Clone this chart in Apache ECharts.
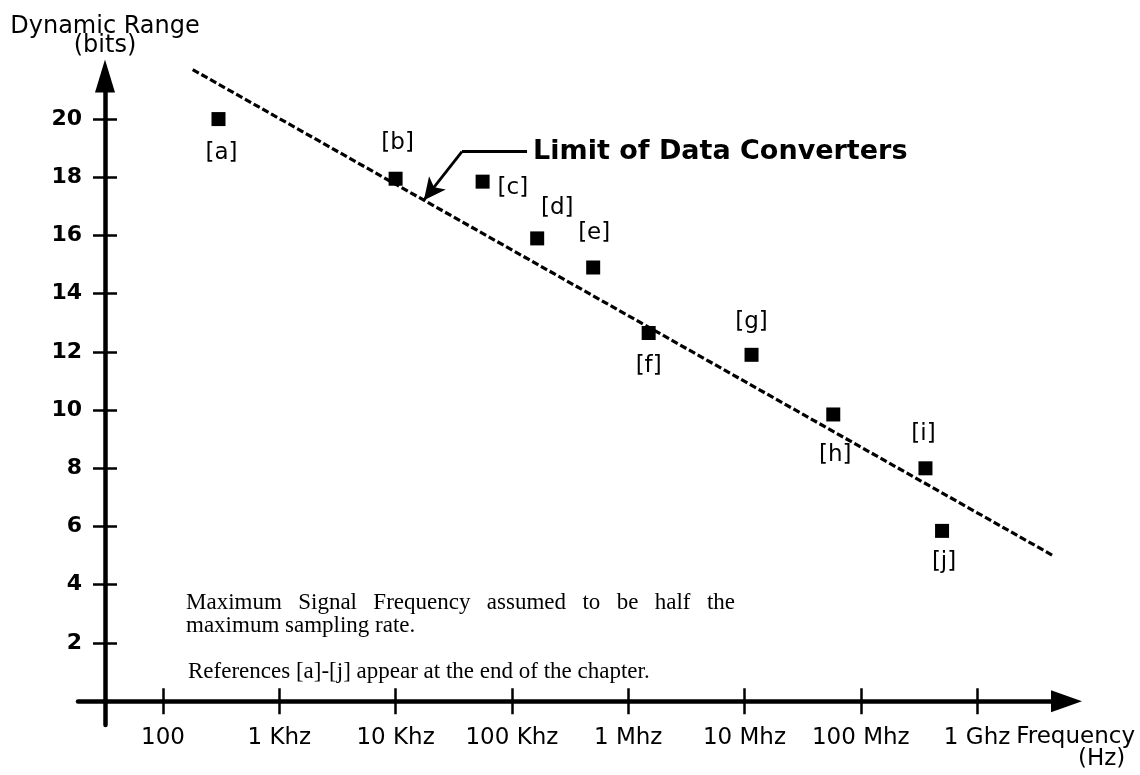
<!DOCTYPE html>
<html>
<head>
<meta charset="utf-8">
<script src="https://cdn.jsdelivr.net/npm/echarts@6/dist/echarts.min.js"></script>
<style>
  html, body { margin: 0; padding: 0; background: #fff; }
  #chart { width: 1140px; height: 775px; }
</style>
</head>
<body>
<div id="chart"></div>
<script>
// Published converters: sampling frequency (Hz) against dynamic range (bits)
const refLabels = ['[a]', '[b]', '[c]', '[d]', '[e]', '[f]', '[g]', '[h]', '[i]', '[j]'];
const refFreqHz = [300, 1.0e4, 5.6e4, 1.65e5, 5.0e5, 1.5e6, 1.15e7, 5.8e7, 3.6e8, 5.0e8];
const refBits   = [20, 17.95, 17.85, 15.9, 14.9, 12.65, 11.9, 9.85, 8.0, 5.85];

// "Limit of Data Converters" trend line (two end points)
const limitFreqHz = [180, 4.5e9];
const limitBits   = [21.7, 5.0];

// Callout: elbow and start of the caption; the arrow ends on the trend line
const calloutFreqHz = [3.72e4, 1.35e5];
const calloutBits   = [18.88, 18.88];
const calloutTipHz  = 1.75e4;

// Axis ticks
const freqTicksHz    = [1e2, 1e3, 1e4, 1e5, 1e6, 1e7, 1e8, 1e9];
const freqTickLabels = ['100', '1 Khz', '10 Khz', '100 Khz', '1 Mhz', '10 Mhz', '100 Mhz', '1 Ghz'];
const bitTicks       = [2, 4, 6, 8, 10, 12, 14, 16, 18, 20];

// Notes printed inside the plot
const noteLines = [
  'Maximum Signal Frequency assumed to be half the',
  'maximum sampling rate.',
  'References [a]-[j] appear at the end of the chapter.'
];

// Where each reference tag sits around its marker
const tagPlacement = {
  '[a]': { position: 'bottom', distance: 15, offset: [3, 0] },
  '[b]': { position: 'top',    distance: 17, offset: [2, 0] },
  '[c]': { position: 'right',  distance: 8,  offset: [0, 6] },
  '[d]': { position: 'top',    distance: 12, offset: [20, 0] },
  '[e]': { position: 'top',    distance: 16, offset: [1, 0] },
  '[f]': { position: 'bottom', distance: 15, offset: [0, 0] },
  '[g]': { position: 'top',    distance: 14, offset: [0, 0] },
  '[h]': { position: 'bottom', distance: 22, offset: [2, 0] },
  '[i]': { position: 'top',    distance: 16, offset: [-2, 0] },
  '[j]': { position: 'bottom', distance: 13, offset: [2, 0] }
};

const lg = Math.log10;
const INK = '#000';
const SANS = '"DejaVu Sans", sans-serif';
const SERIF = '"Liberation Serif", "Times New Roman", serif';
const NOTE_FONT = '23px ' + SERIF;

const freqTickDecades = freqTicksHz.map(lg);

// bits on the trend line at a given frequency (straight in log-frequency)
function limitAt(fHz) {
  const x0 = lg(limitFreqHz[0]), x1 = lg(limitFreqHz[1]);
  const t = (lg(fHz) - x0) / (x1 - x0);
  return limitBits[0] + t * (limitBits[1] - limitBits[0]);
}

// first note line is set justified across a fixed measure
function justified(text, measure) {
  const ctx = document.createElement('canvas').getContext('2d');
  ctx.font = NOTE_FONT;
  const words = text.split(' ');
  const used = words.reduce((s, w) => s + ctx.measureText(w).width, 0);
  const gap = (measure - used) / (words.length - 1);
  return {
    text: words.map(w => '{w|' + w + '}').join('{g| }'),
    rich: {
      w: { font: NOTE_FONT, fill: INK },
      g: { font: NOTE_FONT, fill: INK, width: gap }
    }
  };
}
const firstLine = justified(noteLines[0], 549);

const pointData = refLabels.map((tag, i) => {
  const p = tagPlacement[tag];
  return {
    name: tag,
    value: [lg(refFreqHz[i]), refBits[i]],
    label: {
      show: true, formatter: tag, position: p.position, distance: p.distance, offset: p.offset,
      color: INK, fontFamily: SANS, fontSize: 23
    }
  };
});

const limitData = limitFreqHz.map((f, i) => [lg(f), limitBits[i]]);

const chart = echarts.init(document.getElementById('chart'), null, { renderer: 'canvas' });

const tickStyle = { color: INK, width: 2.5 };

chart.setOption({
  animation: false,
  backgroundColor: '#fff',
  grid: { left: 78, right: 73.5, top: 76, bottom: 50 },
  xAxis: [
    {
      type: 'value',
      min: 1.269,
      max: 9.769,
      axisLine: {
        show: true, onZero: true, onZeroAxisIndex: 0,
        symbol: ['none', 'triangle'], symbolSize: [22, 31],
        lineStyle: { color: INK, width: 4.5 }
      },
      axisTick: { show: true, customValues: freqTickDecades, length: 13, inside: false, lineStyle: tickStyle },
      axisLabel: {
        show: true, customValues: freqTickDecades, margin: 2,
        formatter: v => freqTickLabels[freqTickDecades.findIndex(d => Math.abs(d - v) < 1e-6)],
        color: INK, fontFamily: SANS, fontSize: 23
      },
      splitLine: { show: false },
      name: '{f|Frequency}\n{h|(Hz)}',
      nameLocation: 'end',
      nameGap: 0,
      nameTextStyle: {
        align: 'center', verticalAlign: 'top', padding: [25, 0, 0, 0],
        color: INK, fontFamily: SANS, fontSize: 23, lineHeight: 22,
        rich: {
          f: { fontFamily: SANS, fontSize: 23, color: INK, lineHeight: 22 },
          h: { fontFamily: SANS, fontSize: 23, color: INK, lineHeight: 22, padding: [0, 0, 0, 52] }
        }
      }
    },
    {
      type: 'value',
      position: 'bottom',
      min: 1.269,
      max: 9.769,
      axisLine: { show: false, onZero: true, onZeroAxisIndex: 0 },
      axisTick: { show: true, customValues: freqTickDecades, length: 13, inside: true, lineStyle: tickStyle },
      axisLabel: { show: false },
      splitLine: { show: false }
    }
  ],
  yAxis: [
    {
      type: 'value',
      position: 'left',
      offset: -27,
      min: -0.82,
      max: 21.48,
      axisLine: {
        show: true, onZero: false,
        symbol: ['none', 'triangle'], symbolSize: [20, 33],
        lineStyle: { color: INK, width: 4.5 }
      },
      axisTick: { show: true, customValues: bitTicks, length: 12, inside: false, lineStyle: tickStyle },
      axisLabel: {
        show: true, customValues: bitTicks, margin: 23,
        color: INK, fontFamily: SANS, fontSize: 22, fontWeight: 'bold'
      },
      splitLine: { show: false },
      name: 'Dynamic Range\n(bits)',
      nameLocation: 'end',
      nameGap: 21,
      nameTextStyle: {
        align: 'center', verticalAlign: 'bottom',
        color: INK, fontFamily: SANS, fontSize: 24, lineHeight: 19
      }
    },
    {
      type: 'value',
      position: 'left',
      offset: -27,
      min: -0.82,
      max: 21.48,
      axisLine: { show: false, onZero: false },
      axisTick: { show: true, customValues: bitTicks, length: 12, inside: true, lineStyle: tickStyle },
      axisLabel: { show: false },
      splitLine: { show: false }
    }
  ],
  series: [
    {
      name: 'Limit of Data Converters',
      type: 'line',
      xAxisIndex: 0,
      yAxisIndex: 0,
      data: limitData,
      clip: false,
      showSymbol: false,
      symbol: 'none',
      silent: true,
      lineStyle: { color: INK, width: 3.2, type: [7, 3], opacity: 1 },
      z: 2,
      markLine: {
        silent: true,
        animation: false,
        symbol: ['none', 'none'],
        precision: 6,
        lineStyle: { color: INK, width: 2.8, type: 'solid', opacity: 1 },
        label: { show: false },
        emphasis: { disabled: true },
        data: [
          [
            { coord: [lg(calloutFreqHz[0]), calloutBits[0]] },
            {
              coord: [lg(calloutFreqHz[1]), calloutBits[1]],
              label: {
                show: true, position: 'end', distance: 6,
                formatter: 'Limit of Data Converters',
                color: INK, fontFamily: SANS, fontSize: 27, fontWeight: 'bold'
              }
            }
          ],
          [
            { coord: [lg(calloutFreqHz[0]), calloutBits[0]] },
            { coord: [lg(calloutTipHz), limitAt(calloutTipHz)], symbol: 'arrow', symbolSize: [16, 22] }
          ]
        ]
      }
    },
    {
      name: 'References',
      type: 'scatter',
      xAxisIndex: 0,
      yAxisIndex: 0,
      data: pointData,
      symbol: 'rect',
      symbolSize: 14,
      itemStyle: { color: INK, opacity: 1 },
      emphasis: { disabled: true },
      z: 3
    }
  ],
  graphic: [
    {
      type: 'text', x: 186, y: 603, silent: true,
      style: {
        text: firstLine.text, rich: firstLine.rich,
        font: NOTE_FONT, fill: INK, verticalAlign: 'middle'
      }
    },
    {
      type: 'text', x: 186, y: 626, silent: true,
      style: { text: noteLines[1], font: NOTE_FONT, fill: INK, verticalAlign: 'middle' }
    },
    {
      type: 'text', x: 188, y: 672, silent: true,
      style: { text: noteLines[2], font: NOTE_FONT, fill: INK, verticalAlign: 'middle' }
    }
  ]
});
</script>
</body>
</html>
